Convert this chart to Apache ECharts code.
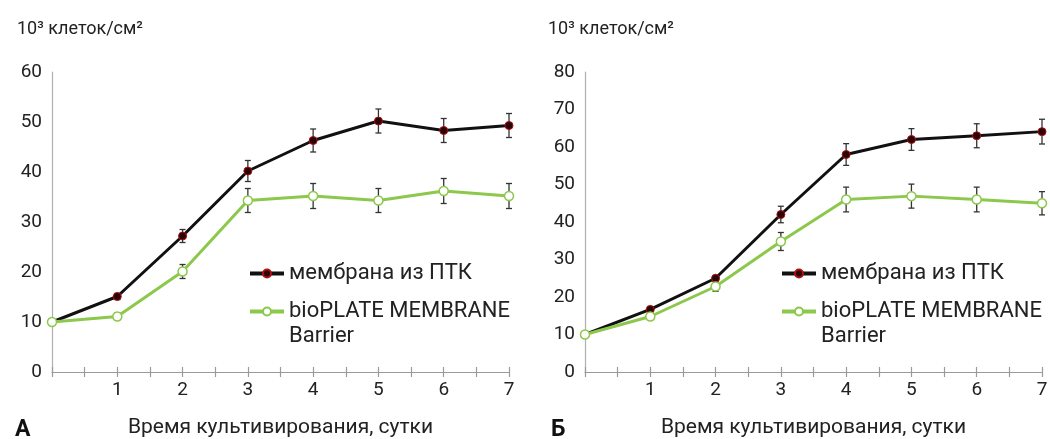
<!DOCTYPE html>
<html>
<head>
<meta charset="utf-8">
<script src="https://cdn.jsdelivr.net/npm/echarts@6/dist/echarts.min.js"></script>
<style>
html,body{margin:0;padding:0;background:#fff;}
#c{width:1050px;height:439px;}
</style>
</head>
<body>
<div id="c"></div>
<script>
const days = [0, 1, 2, 3, 4, 5, 6, 7];
const xTickLabels = ['', '1', '2', '3', '4', '5', '6', '7'];
const seriesNames = ['мембрана из ПТК', 'bioPLATE MEMBRANE\nBarrier'];
const yTitle = '10³ клеток/см²';
const xTitle = 'Время культивирования, сутки';
const panelLetters = ['А', 'Б'];

// Panel A
const aPtk = [10, 15.1, 27.2, 40.2, 46.3, 50.2, 48.3, 49.3];
const aPtkErr = [0.2, 0.6, 1.3, 2.1, 2.3, 2.4, 2.4, 2.4];
const aBio = [10, 11.1, 20.1, 34.3, 35.2, 34.3, 36.2, 35.2];
const aBioErr = [0.2, 0.7, 1.4, 2.4, 2.5, 2.4, 2.5, 2.5];
const aYMax = 60;

// Panel Б
const bPtk = [10, 16.7, 25.0, 42.0, 58.0, 62.0, 63.0, 64.1];
const bPtkErr = [0.2, 0.7, 0.6, 2.2, 2.9, 2.9, 3.2, 3.3];
const bBio = [10, 14.8, 22.8, 34.8, 46.0, 46.9, 46.0, 45.0];
const bBioErr = [0.2, 0.9, 1.3, 2.4, 3.3, 3.2, 3.3, 3.1];
const bYMax = 80;

const FONT = 'Roboto';
const BLACK = '#111111';
const GREEN = '#8cc84b';

function pairs(vals) { return days.map((d, i) => [d, vals[i]]); }
function errData(vals, errs) { return days.map((d, i) => [d, vals[i] - errs[i], vals[i] + errs[i]]); }

function errRender(params, api) {
  const x = api.value(0);
  const lo = api.coord([x, api.value(1)]);
  const hi = api.coord([x, api.value(2)]);
  const w = 3;
  const st = { stroke: '#333', lineWidth: 1.3 };
  return {
    type: 'group',
    children: [
      { type: 'line', shape: { x1: lo[0], y1: lo[1], x2: hi[0], y2: hi[1] }, style: st },
      { type: 'line', shape: { x1: lo[0] - w, y1: lo[1], x2: lo[0] + w, y2: lo[1] }, style: st },
      { type: 'line', shape: { x1: hi[0] - w, y1: hi[1], x2: hi[0] + w, y2: hi[1] }, style: st }
    ]
  };
}

const grids = [
  { left: 52, right: 541, top: 72, bottom: 67, containLabel: false, outerBoundsMode: 'none' },
  { left: 585, right: 8, top: 72, bottom: 67, containLabel: false, outerBoundsMode: 'none' }
];

const xAxes = [];
const yAxes = [];
[0, 1].forEach(g => {
  xAxes.push({
    type: 'value', gridIndex: g, min: 0, max: 7, interval: 0.5,
    axisLine: { show: true, lineStyle: { color: '#9a9a9a', width: 1.2 } },
    axisTick: { show: true, length: 5, lineStyle: { color: '#9a9a9a', width: 1.2 } },
    splitLine: { show: false },
    axisLabel: {
      margin: 9, color: '#222', fontSize: 19, fontFamily: FONT,
      formatter: v => Number.isInteger(v) ? xTickLabels[v] : ''
    },
    name: xTitle, nameLocation: 'middle', nameGap: 45,
    nameTextStyle: { color: '#222', fontSize: 21, fontFamily: FONT }
  });
  xAxes.push({
    type: 'value', gridIndex: g, min: 0, max: 7, interval: 0.5, position: 'bottom',
    axisLine: { show: false },
    axisTick: { show: true, inside: true, length: 5, lineStyle: { color: '#9a9a9a', width: 1.2 } },
    splitLine: { show: false },
    axisLabel: { show: false }
  });
  yAxes.push({
    type: 'value', gridIndex: g, min: 0, max: g === 0 ? aYMax : bYMax, interval: 10,
    axisLine: { show: true, lineStyle: { color: '#b0b0b0', width: 1.2 } },
    axisTick: { show: false },
    splitLine: { show: false },
    axisLabel: { margin: 10, color: '#222', fontSize: 19, fontFamily: FONT }
  });
});

function lineSeries(name, vals, g, isPtk) {
  return {
    type: 'line', name: name, xAxisIndex: g * 2, yAxisIndex: g,
    data: pairs(vals),
    symbol: 'circle', symbolSize: isPtk ? 8 : 9,
    lineStyle: { color: isPtk ? BLACK : GREEN, width: 3 },
    itemStyle: isPtk
      ? { color: '#2a0508', borderColor: '#b01010', borderWidth: 1 }
      : { color: '#ffffff', borderColor: GREEN, borderWidth: 1.5 },
    z: 4, animation: false
  };
}
function errSeries(vals, errs, g) {
  return {
    type: 'custom', xAxisIndex: g * 2, yAxisIndex: g,
    data: errData(vals, errs), renderItem: errRender,
    encode: { x: 0, y: [1, 2] }, z: 3, silent: true, animation: false
  };
}

const series = [
  lineSeries(seriesNames[0], aPtk, 0, true),
  lineSeries(seriesNames[1], aBio, 0, false),
  errSeries(aPtk, aPtkErr, 0),
  errSeries(aBio, aBioErr, 0),
  lineSeries(seriesNames[0], bPtk, 1, true),
  lineSeries(seriesNames[1], bBio, 1, false),
  errSeries(bPtk, bPtkErr, 1),
  errSeries(bBio, bBioErr, 1)
];

function legendFor(left) {
  return {
    orient: 'vertical', left: left, top: 256,
    itemWidth: 34, itemHeight: 10, itemGap: -12,
    selectedMode: false,
    data: [seriesNames[0], seriesNames[1]],
    // blank first line so the icon lines up with the first text line
    formatter: name => name === seriesNames[1] ? ' \n' + name : name,
    textStyle: { color: '#222', fontSize: 22, fontFamily: FONT, lineHeight: 25 },
    lineStyle: { width: 4 }
  };
}

const option = {
  backgroundColor: '#ffffff',
  animation: false,
  grid: grids,
  xAxis: xAxes,
  yAxis: yAxes,
  legend: [legendFor(243), legendFor(775)],
  title: [
    { text: yTitle, left: 12, top: 15, textStyle: { fontSize: 18, fontWeight: 'normal', color: '#222', fontFamily: FONT } },
    { text: yTitle, left: 543, top: 15, textStyle: { fontSize: 18, fontWeight: 'normal', color: '#222', fontFamily: FONT } },
    { text: panelLetters[0], left: 10, top: 414, textStyle: { fontSize: 23, fontWeight: 'bold', color: '#111', fontFamily: FONT } },
    { text: panelLetters[1], left: 546, top: 414, textStyle: { fontSize: 23, fontWeight: 'bold', color: '#111', fontFamily: FONT } }
  ],
  series: series
};

const chart = echarts.init(document.getElementById('c'), null, { renderer: 'canvas' });
chart.setOption(option);
</script>
</body>
</html>
